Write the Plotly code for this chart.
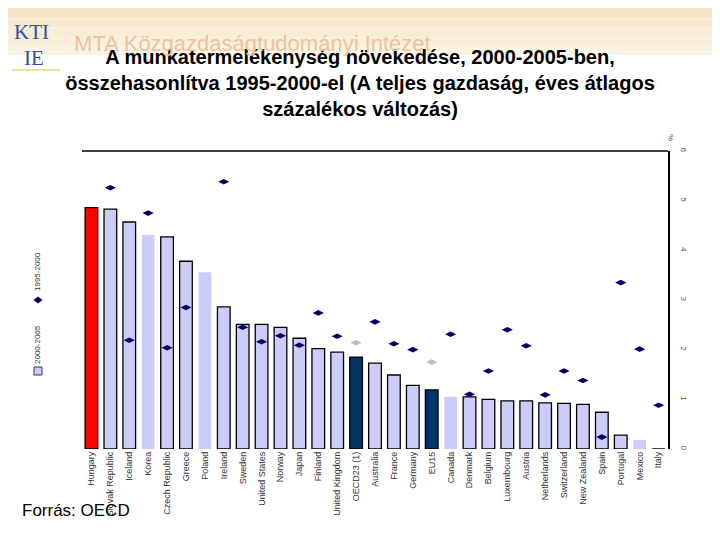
import plotly.graph_objects as go

# ---------------- data ----------------
categories = ["Hungary", "Slovak Republic", "Iceland", "Korea", "Czech Republic", "Greece",
              "Poland", "Ireland", "Sweden", "United States", "Norway", "Japan", "Finland",
              "United Kingdom", "OECD23 (1)", "Australia", "France", "Germany", "EU15",
              "Canada", "Denmark", "Belgium", "Luxembourg", "Austria", "Netherlands",
              "Switzerland", "New Zealand", "Spain", "Portugal", "Mexico", "Italy"]

growth_2000_2005 = [4.86, 4.83, 4.57, 4.31, 4.27, 3.78, 3.56, 2.86, 2.51, 2.51, 2.45, 2.23,
                    2.02, 1.95, 1.85, 1.73, 1.49, 1.28, 1.19, 1.05, 1.05, 1.00, 0.97, 0.97,
                    0.93, 0.92, 0.90, 0.74, 0.28, 0.18, 0.0]

growth_1995_2000 = [None, 5.26, 2.19, 4.75, 2.04, 2.85, None, 5.38, 2.45, 2.16, 2.28, 2.09,
                    2.74, 2.27, 2.14, 2.56, 2.12, 2.00, 1.75, 2.31, 1.10, 1.57, 2.40, 2.08,
                    1.09, 1.57, 1.38, 0.24, 3.35, 2.01, 0.88]

y_ticks = [0, 1, 2, 3, 4, 5, 6]

title_text = ("<b>A munkatermelékenység növekedése, 2000-2005-ben,<br>"
              "összehasonlítva 1995-2000-el (A teljes gazdaság, éves átlagos<br>"
              "százalékos változás)</b>")
source_text = "Forrás: OECD"
header_text = "MTA Közgazdaságtudományi Intézet"
legend_bar_label = "2000-2005"
legend_dot_label = "1995-2000"

# ---------------- geometry (page has an 8px body margin) ----------------
OFF = 8
W, H = 720 - OFF, 540 - OFF
# plot area in screen pixels: x 82..668, y 151..449
L, R, T, B = 82 - OFF, W - (668 - OFF), 151 - OFF, H - (449 - OFF)
PW, PH = W - L - R, H - T - B


def px(x):
    """screen x pixel -> paper x"""
    return (x - OFF - L) / PW


def py(y):
    """screen y pixel -> paper y"""
    return (H - B - (y - OFF)) / PH


highlight = {"Hungary": "#FF0000", "OECD23 (1)": "#003366", "EU15": "#003366"}
no_outline = {"Korea", "Poland", "Canada", "Mexico"}
bar_colors = [highlight.get(c, "#CCCCFA") for c in categories]
bar_line_w = [0 if c in no_outline else 1.3 for c in categories]
dot_colors = ["#BEBEBE" if c in ("OECD23 (1)", "EU15") else "#000066" for c in categories]

fig = go.Figure()
fig.add_trace(go.Bar(
    x=categories, y=growth_2000_2005,
    marker=dict(color=bar_colors, line=dict(color="#000000", width=bar_line_w)),
    name=legend_bar_label, showlegend=False,
))
fig.add_trace(go.Scatter(
    x=categories, y=growth_1995_2000, mode="markers",
    marker=dict(symbol="diamond-wide", size=8, color=dot_colors),
    name=legend_dot_label, showlegend=False,
))

shapes = []
# header band (beige gradient)
band = ["#F3E2C2", "#F5E6C9", "#F6E9CF", "#F8ECD5", "#F9EFDB", "#FBF3E3"]
for i, col in enumerate(band):
    y0 = i * 55 / len(band)
    y1 = (i + 1) * 55 / len(band)
    shapes.append(dict(type="rect", xref="paper", yref="paper", x0=px(0), x1=px(730),
                       y0=py(y1), y1=py(y0 - 10 if i == 0 else y0), fillcolor=col,
                       line=dict(width=0), layer="below"))
# logo underline
shapes.append(dict(type="line", xref="paper", yref="paper", x0=px(12), x1=px(60),
                   y0=py(70), y1=py(70), line=dict(color="#E6D58A", width=1.5)))
# top border of plot
shapes.append(dict(type="line", xref="paper", yref="paper", x0=0, x1=1, y0=1, y1=1,
                   line=dict(color="#000000", width=1.5)))
# legend square
shapes.append(dict(type="rect", xref="paper", yref="paper", x0=px(34), x1=px(42),
                   y0=py(375), y1=py(367), fillcolor="#CCCCFA",
                   line=dict(color="#333366", width=1)))
# legend diamond
cx, cy = 38, 300
shapes.append(dict(type="path", xref="paper", yref="paper",
                   path=f"M {px(cx-4.5)},{py(cy)} L {px(cx)},{py(cy-3.5)} L {px(cx+4.5)},{py(cy)} "
                        f"L {px(cx)},{py(cy+3.5)} Z",
                   fillcolor="#000066", line=dict(width=0)))

font_main = "Liberation Sans, Arial"
annotations = [
    dict(text=header_text, xref="paper", yref="paper", x=px(72), y=py(43),
         xanchor="left", yanchor="middle", showarrow=False,
         font=dict(family=font_main, size=22, color="#EDC29C")),
    dict(text="KTI", xref="paper", yref="paper", x=px(31), y=py(32),
         xanchor="center", yanchor="middle", showarrow=False,
         font=dict(family="Liberation Serif, serif", size=21, color="#2F4FA0")),
    dict(text="IE", xref="paper", yref="paper", x=px(34), y=py(58),
         xanchor="center", yanchor="middle", showarrow=False,
         font=dict(family="Liberation Serif, serif", size=21, color="#2F4FA0")),
    dict(text=source_text, xref="paper", yref="paper", x=px(20), y=py(510),
         xanchor="left", yanchor="middle", showarrow=False,
         font=dict(family=font_main, size=17, color="#000000")),
    dict(text=legend_dot_label, xref="paper", yref="paper", x=px(37), y=py(272),
         xanchor="center", yanchor="middle", textangle=-90, showarrow=False,
         font=dict(family=font_main, size=8, color="#333333")),
    dict(text=legend_bar_label, xref="paper", yref="paper", x=px(37), y=py(345),
         xanchor="center", yanchor="middle", textangle=-90, showarrow=False,
         font=dict(family=font_main, size=8, color="#333333")),
    dict(text="%", xref="paper", yref="paper", x=px(671), y=py(137),
         xanchor="center", yanchor="middle", textangle=90, showarrow=False,
         font=dict(family=font_main, size=8, color="#555555")),
]

fig.update_layout(
    width=W, height=H, autosize=False,
    margin=dict(l=L, r=R, t=T, b=B, pad=0),
    paper_bgcolor="#FFFFFF", plot_bgcolor="#FFFFFF",
    bargap=0.33,
    title=dict(text=title_text, x=0.5 - OFF / 2 / W, xref="container", xanchor="center",
               y=1 - 56 / H, yref="container", yanchor="top",
               font=dict(family=font_main, size=20, color="#000000")),
    xaxis=dict(type="category", range=[-0.5, len(categories) - 0.5], tickangle=-90,
               showgrid=False, showline=False, zeroline=False, ticks="",
               tickfont=dict(family=font_main, size=9, color="#333333")),
    yaxis=dict(range=[0, 6], side="right", tickvals=y_ticks, showgrid=False,
               zeroline=False, showline=True, linecolor="#000000", linewidth=1.5,
               ticks="outside", ticklen=8, tickcolor="rgba(0,0,0,0)", tickangle=90,
               tickfont=dict(family=font_main, size=8, color="#555555")),
    shapes=shapes,
    annotations=annotations,
)

fig.write_html("out.html")
